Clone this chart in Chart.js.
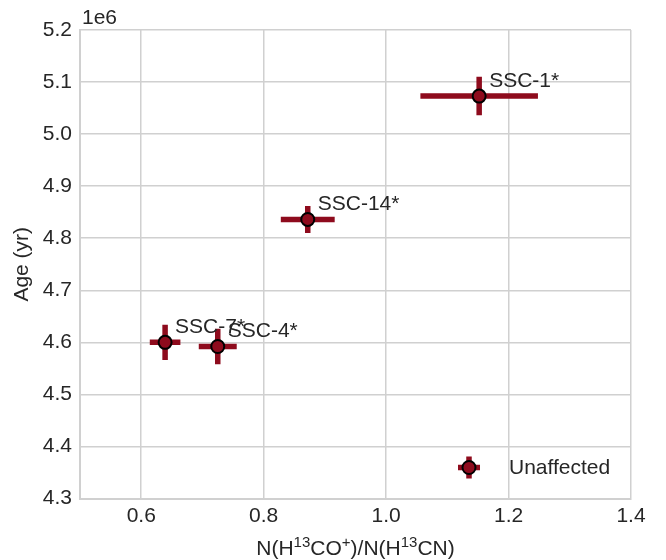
<!DOCTYPE html>
<html>
<head>
<meta charset="utf-8">
<script src="https://cdn.jsdelivr.net/npm/chart.js@4/dist/chart.umd.min.js"></script>
<style>
  html, body { margin: 0; padding: 0; background: #fff; }
  #wrap { width: 666px; height: 560px; }
</style>
</head>
<body>
<div id="wrap"><canvas id="chart" width="666" height="560"></canvas></div>
<script>
// data
const labels = ['SSC-1*', 'SSC-14*', 'SSC-7*', 'SSC-4*'];
const ratio = [1.152, 0.872, 0.639, 0.725];
const ratioErr = [0.096, 0.044, 0.025, 0.031];
const age = [5.073e6, 4.836e6, 4.600e6, 4.592e6];
const ageErr = [0.037e6, 0.026e6, 0.034e6, 0.034e6];
const xTicks = [0.6, 0.8, 1.0, 1.2, 1.4];
const yTicks = [4.3e6, 4.4e6, 4.5e6, 4.6e6, 4.7e6, 4.8e6, 4.9e6, 5.0e6, 5.1e6, 5.2e6];

const RED = '#8e0b1d';
const TXT = '#262626';
const GRID = '#d0d0d0';
const FONT = '"Liberation Sans", Arial, sans-serif';

// error bars, point labels, legend, offset text and the x title with superscripts
const extras = {
  id: 'extras',
  beforeDatasetsDraw(chart) {
    const { ctx, scales: { x, y } } = chart;
    ctx.save();
    ctx.strokeStyle = RED;
    ctx.lineWidth = 5.5;
    ctx.lineCap = 'butt';
    ratio.forEach((v, i) => {
      const px = x.getPixelForValue(v), py = y.getPixelForValue(age[i]);
      ctx.beginPath();
      ctx.moveTo(x.getPixelForValue(v - ratioErr[i]), py);
      ctx.lineTo(x.getPixelForValue(v + ratioErr[i]), py);
      ctx.moveTo(px, y.getPixelForValue(age[i] - ageErr[i]));
      ctx.lineTo(px, y.getPixelForValue(age[i] + ageErr[i]));
      ctx.stroke();
    });
    ctx.restore();
  },
  afterDatasetsDraw(chart) {
    const { ctx, chartArea: a, scales: { x, y } } = chart;
    ctx.save();
    ctx.fillStyle = TXT;
    ctx.font = `21px ${FONT}`;
    ctx.textBaseline = 'alphabetic';
    ctx.textAlign = 'left';
    labels.forEach((t, i) => {
      ctx.fillText(t, x.getPixelForValue(ratio[i]) + 10, y.getPixelForValue(age[i]) - 9);
    });

    // legend
    const lx = a.right - 162, ly = a.bottom - 31;
    ctx.strokeStyle = RED;
    ctx.lineWidth = 5.5;
    ctx.beginPath();
    ctx.moveTo(lx - 11, ly); ctx.lineTo(lx + 11, ly);
    ctx.moveTo(lx, ly - 11); ctx.lineTo(lx, ly + 11);
    ctx.stroke();
    ctx.beginPath();
    ctx.arc(lx, ly, 6.5, 0, Math.PI * 2);
    ctx.fillStyle = RED;
    ctx.fill();
    ctx.lineWidth = 2;
    ctx.strokeStyle = '#000';
    ctx.stroke();
    ctx.fillStyle = TXT;
    ctx.textBaseline = 'middle';
    ctx.fillText(chart.data.datasets[0].label, lx + 40, ly + 1);

    // offset text
    ctx.textBaseline = 'alphabetic';
    ctx.fillText('1e6', a.left + 2, 24);

    // x axis title
    const parts = [['N(H', 0], ['13', 1], ['CO', 0], ['+', 1], [')/N(H', 0], ['13', 1], ['CN)', 0]];
    const big = `21px ${FONT}`, small = `15px ${FONT}`;
    let w = 0;
    parts.forEach(([s, sup]) => { ctx.font = sup ? small : big; w += ctx.measureText(s).width; });
    let cx = (a.left + a.right) / 2 - w / 2;
    const base = 555;
    parts.forEach(([s, sup]) => {
      ctx.font = sup ? small : big;
      ctx.fillText(s, cx, sup ? base - 8 : base);
      cx += ctx.measureText(s).width;
    });
    ctx.restore();
  }
};

new Chart(document.getElementById('chart'), {
  type: 'scatter',
  data: {
    datasets: [{
      label: 'Unaffected',
      data: ratio.map((v, i) => ({ x: v, y: age[i] })),
      backgroundColor: RED,
      borderColor: '#000',
      borderWidth: 2,
      pointRadius: 6.5,
      pointHoverRadius: 6.5
    }]
  },
  options: {
    responsive: false,
    animation: false,
    layout: { padding: { top: 30, right: 35, left: 0, bottom: 0 } },
    plugins: { legend: { display: false }, tooltip: { enabled: false } },
    scales: {
      x: {
        type: 'linear', min: 0.5, max: 1.4,
        afterBuildTicks: s => { s.ticks = xTicks.map(v => ({ value: v })); },
        afterFit: s => { s.height = 61.5; },
        grid: { color: GRID, lineWidth: 1.5, drawTicks: false },
        border: { display: true, color: GRID, width: 2 },
        ticks: { padding: 5, color: TXT, font: { size: 21, family: FONT }, callback: v => v.toFixed(1) }
      },
      y: {
        type: 'linear', min: 4.3e6, max: 5.2e6,
        afterBuildTicks: s => { s.ticks = yTicks.map(v => ({ value: v })); },
        afterFit: s => { s.width = 80; },
        grid: { color: GRID, lineWidth: 1.5, drawTicks: false },
        border: { display: true, color: GRID, width: 2 },
        title: { display: true, text: 'Age (yr)', color: TXT, font: { size: 21, family: FONT }, padding: { top: 10, bottom: 2 } },
        ticks: { padding: 8, color: TXT, font: { size: 21, family: FONT }, callback: v => (v / 1e6).toFixed(1) }
      }
    }
  },
  plugins: [extras]
});
</script>
</body>
</html>
